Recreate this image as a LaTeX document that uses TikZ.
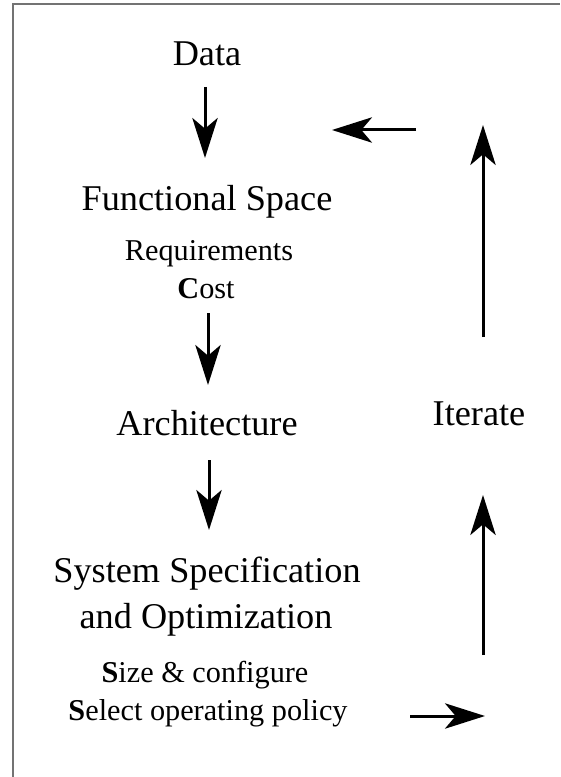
\documentclass[tikz,border=0pt]{standalone}
\usepackage{fontspec}
\setmainfont{Liberation Serif}
\usetikzlibrary{arrows.meta}
\tikzstyle{big}=[anchor=base,inner sep=0pt,font=\fontsize{27.2}{32}\selectfont]
\tikzstyle{small}=[anchor=base,inner sep=0pt,font=\fontsize{22.7}{27}\selectfont]
\tikzstyle{none}=[]
\tikzstyle{flow}=[line width=2.25pt,-{Stealth[length=30pt,width=19pt,inset=8pt]}]

\begin{document}
\begin{tikzpicture}[x=0.75pt,y=-0.75pt]
    \useasboundingbox (0,0) rectangle (560,777);
    \draw [color=black!55,line width=0.9pt] (13,777) -- (13,4) -- (560,4);
            \node [style=big] (0) at (207, 66) {Data};
            \node [style=big] (1) at (207, 210) {Functional Space};
            \node [style=small] (2) at (209, 260) {Requirements};
            \node [style=small] (3) at (206, 298) {\textbf{C}ost};
            \node [style=big] (4) at (207, 435) {Architecture};
            \node [style=big] (5) at (207, 582) {System Specification};
            \node [style=big] (6) at (206, 628) {and Optimization};
            \node [style=small] (7) at (205, 682) {\textbf{S}ize \& configure};
            \node [style=small] (8) at (208, 720) {\textbf{S}elect operating policy};
            \node [style=big] (9) at (479, 425) {Iterate};
            \coordinate (10) at (205, 87);
            \coordinate (11) at (205, 158);
            \coordinate (12) at (208, 313);
            \coordinate (13) at (208, 385);
            \coordinate (14) at (209, 460);
            \coordinate (15) at (209, 530);
            \coordinate (16) at (410, 716);
            \coordinate (17) at (485, 716);
            \coordinate (18) at (483, 655);
            \coordinate (19) at (483, 495);
            \coordinate (20) at (483, 337);
            \coordinate (21) at (483, 125);
            \coordinate (22) at (416, 130);
            \coordinate (23) at (332, 130);
            \draw [style=flow] (10) to (11);
            \draw [style=flow] (12) to (13);
            \draw [style=flow] (14) to (15);
            \draw [style=flow] (16) to (17);
            \draw [style=flow] (18) to (19);
            \draw [style=flow] (20) to (21);
            \draw [style=flow] (22) to (23);
\end{tikzpicture}
\end{document}
